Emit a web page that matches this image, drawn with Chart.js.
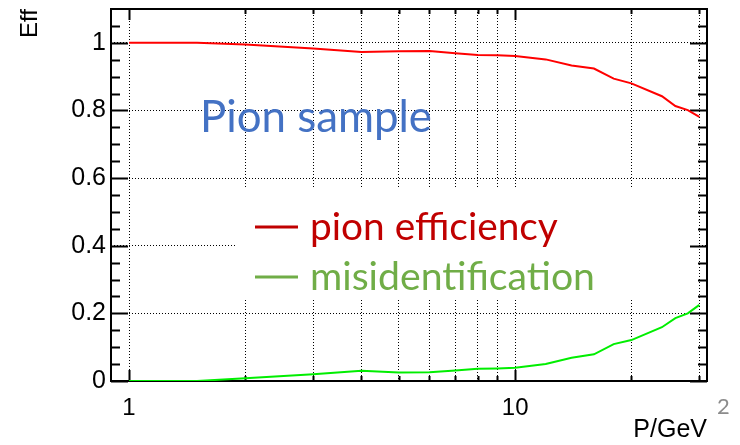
<!DOCTYPE html>
<html>
<head>
<meta charset="utf-8">
<script src="https://cdn.jsdelivr.net/npm/chart.js@4.4.1/dist/chart.umd.min.js"></script>
<style>
  body { margin: 0; background: #fff; }
  canvas { display: block; }
</style>
</head>
<body>
<canvas id="effChart" width="740" height="445"></canvas>
<script>
// momentum bins (GeV) and the two curves
const momentum = [1, 1.5, 2, 3, 4, 5, 6, 7, 8, 9, 10, 12, 14, 16, 18, 20, 24, 26, 28, 30];
const pionEff = [1, 1, 0.995, 0.983, 0.973, 0.975, 0.976, 0.969, 0.964, 0.963, 0.961, 0.951, 0.933, 0.924, 0.894, 0.880, 0.842, 0.813, 0.801, 0.781];
const misId = [0, 0, 0.008, 0.020, 0.030, 0.025, 0.026, 0.031, 0.036, 0.037, 0.039, 0.050, 0.069, 0.079, 0.109, 0.121, 0.159, 0.186, 0.200, 0.225];

// axis ticks
const xGridTicks = [1, 2, 3, 4, 5, 6, 7, 8, 9, 10, 20, 30];
const xMajorTicks = [1, 10];
const yTicks = [0, 0.2, 0.4, 0.6, 0.8, 1.0];
const yMinorTicks = [0.05, 0.1, 0.15, 0.25, 0.3, 0.35, 0.45, 0.5, 0.55, 0.65, 0.7, 0.75, 0.85, 0.9, 0.95, 1.05];

const legendLabels = ['pion efficiency', 'misidentification'];
const legendColors = ['#C00000', '#70AD47'];

const tickFont = 'Liberation Sans, Arial, sans-serif';
const slideFont = 'Lato, sans-serif';

function fitFont(ctx, text, family, width) {
    ctx.font = '40px ' + family;
    const w = ctx.measureText(text).width;
    return (40 * width / w).toFixed(1) + 'px ' + family;
}

// ROOT style frame with inward tick marks, plus the slide annotations
const rootFrame = {
    id: 'rootFrame',
    beforeDatasetsDraw(chart) {
        const ctx = chart.ctx;
        const area = chart.chartArea;
        const x = chart.scales.x;
        const y = chart.scales.y;

        ctx.save();
        // white box behind the legend hides the grid
        ctx.fillStyle = '#fff';
        ctx.fillRect(237, 187, 462, 111);

        ctx.strokeStyle = '#000';
        ctx.lineWidth = 2;
        ctx.beginPath();
        xGridTicks.forEach(v => {
            const px = Math.round(x.getPixelForValue(v)) + 0.5;
            const len = xMajorTicks.includes(v) ? 11 : 5;
            ctx.moveTo(px, area.bottom); ctx.lineTo(px, area.bottom - len);
            ctx.moveTo(px, area.top); ctx.lineTo(px, area.top + len);
        });
        yTicks.concat(yMinorTicks).forEach(v => {
            const py = Math.round(y.getPixelForValue(v)) + 0.5;
            const len = yTicks.includes(v) ? 17 : 9;
            ctx.moveTo(area.left, py); ctx.lineTo(area.left + len, py);
            ctx.moveTo(area.right, py); ctx.lineTo(area.right - len, py);
        });
        ctx.stroke();
        ctx.strokeRect(area.left, area.top, area.right - area.left, area.bottom - area.top);
        ctx.restore();
    },
    afterDraw(chart) {
        const ctx = chart.ctx;
        ctx.save();
        // Pion sample
        ctx.fillStyle = '#4472C4';
        ctx.font = fitFont(ctx, 'Pion sample', slideFont, 232);
        ctx.textBaseline = 'alphabetic';
        ctx.fillText('Pion sample', 200, 132);

        // legend
        const legendWidths = [248, 285];
        legendLabels.forEach((label, i) => {
            const base = 240 + i * 50;
            ctx.strokeStyle = legendColors[i];
            ctx.lineWidth = 3;
            ctx.beginPath();
            ctx.moveTo(255, base - 13);
            ctx.lineTo(298, base - 13);
            ctx.stroke();
            ctx.fillStyle = legendColors[i];
            ctx.font = fitFont(ctx, label, slideFont, legendWidths[i]);
            ctx.fillText(label, 310, base);
        });

        // slide number
        ctx.fillStyle = '#8C8C8C';
        ctx.font = '22px ' + slideFont;
        ctx.fillText('2', 717, 414);
        ctx.restore();
    }
};

new Chart(document.getElementById('effChart'), {
    type: 'line',
    data: {
        datasets: [{
            label: legendLabels[0],
            data: momentum.map((p, i) => ({ x: p, y: pionEff[i] })),
            borderColor: '#FF0000',
            borderWidth: 2,
            pointRadius: 0,
            tension: 0
        }, {
            label: legendLabels[1],
            data: momentum.map((p, i) => ({ x: p, y: misId[i] })),
            borderColor: '#00EE00',
            borderWidth: 2,
            pointRadius: 0,
            tension: 0
        }]
    },
    options: {
        responsive: false,
        devicePixelRatio: 1,
        animation: false,
        layout: { padding: { top: 9, right: 33, left: 0, bottom: 0 } },
        plugins: {
            legend: { display: false },
            tooltip: { enabled: false }
        },
        scales: {
            x: {
                type: 'logarithmic',
                min: 0.898,
                max: 31.4,
                afterBuildTicks: scale => { scale.ticks = xGridTicks.map(v => ({ value: v })); },
                afterFit: scale => {
                    scale.height = 64;
                    scale.paddingLeft = 0;
                    scale.paddingRight = 0;
                },
                grid: { color: '#000', lineWidth: 1, drawTicks: false },
                border: { display: false, dash: [1, 2] },
                ticks: {
                    autoSkip: false,
                    maxRotation: 0,
                    padding: 13,
                    color: '#000',
                    font: { family: tickFont, size: 24 },
                    callback: v => xMajorTicks.includes(v) ? String(v) : ''
                },
                title: {
                    display: true,
                    text: 'P/GeV',
                    align: 'end',
                    color: '#000',
                    font: { family: tickFont, size: 25 },
                    padding: { top: 0, bottom: 0 }
                }
            },
            y: {
                min: 0,
                max: 1.1,
                afterBuildTicks: scale => { scale.ticks = yTicks.map(v => ({ value: v })); },
                afterFit: scale => {
                    scale.width = 111;
                    scale.paddingTop = 0;
                    scale.paddingBottom = 0;
                },
                grid: { color: '#000', lineWidth: 1, drawTicks: false },
                border: { display: false, dash: [1, 2] },
                ticks: {
                    padding: 5,
                    color: '#000',
                    font: { family: tickFont, size: 25 },
                    callback: v => String(Math.round(v * 10) / 10)
                },
                title: {
                    display: true,
                    text: 'Eff',
                    align: 'end',
                    color: '#000',
                    font: { family: tickFont, size: 24 },
                    padding: { top: 16, bottom: 0 }
                }
            }
        }
    },
    plugins: [rootFrame]
});
</script>
</body>
</html>
